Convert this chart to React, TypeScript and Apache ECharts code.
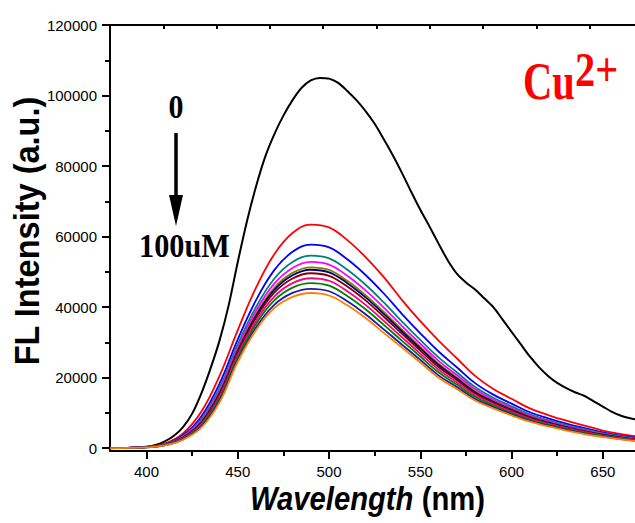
import React, { useEffect, useRef } from "react";
import * as echarts from "echarts";

// Wavelength grids (nm)
const WL5 = [380, 385, 390, 395, 400, 405, 410, 415, 420, 425, 430, 435, 440, 445, 450, 455, 460, 465, 470, 475, 480, 485, 490, 495, 500, 505, 510, 515, 520, 525, 530, 535, 540, 545, 550, 555, 560, 565, 570, 575, 580, 585, 590, 595, 600, 605, 610, 615, 620, 625, 630, 635, 640, 645, 650, 655, 660, 665, 670];
const WL10 = [380, 390, 400, 410, 420, 430, 440, 450, 460, 470, 480, 490, 500, 510, 520, 530, 540, 550, 560, 570, 580, 590, 600, 610, 620, 630, 640, 650, 660, 670];

// 0 uM (black), sampled on WL5
const C_0 = [0, 50, 100, 200, 400, 900, 1900, 3500, 6000, 9800, 15500, 22500, 30500, 40500, 52800, 64300, 74200, 82600, 89000, 94300, 98700, 102200, 104300, 105000, 104800, 103600, 101300, 98700, 95600, 92000, 87600, 83000, 78000, 72700, 67600, 62900, 58000, 53300, 49500, 47000, 45000, 42500, 40000, 36500, 33000, 29500, 26000, 23000, 20500, 18500, 17000, 15800, 14800, 13300, 11800, 10300, 9200, 8500, 8000];

// Curves after Cu2+ additions, sampled on WL10
const C_RED = [0, 100, 350, 1300, 4200, 10300, 20500, 33500, 45500, 55000, 61000, 63400, 62600, 59000, 54200, 48500, 42000, 36000, 30500, 25500, 20500, 16800, 14000, 11300, 9400, 7800, 6400, 5000, 4000, 3200];
const C_BLUE = [0, 95, 320, 1150, 3670, 8980, 18300, 30850, 41970, 50500, 55680, 57700, 56930, 53560, 49110, 43860, 38030, 32560, 27410, 22940, 18440, 15180, 12620, 10180, 8460, 6980, 5690, 4470, 3560, 2820];
const C_TEAL = [0, 90, 300, 1070, 3380, 8260, 17100, 29410, 40050, 48050, 52780, 54590, 53840, 50600, 46350, 41330, 35870, 30690, 25730, 21550, 17320, 14300, 11870, 9580, 7950, 6530, 5310, 4180, 3320, 2610];
const C_MAGENTA = [0, 90, 300, 1030, 3220, 7840, 16410, 28590, 38950, 46650, 51120, 52810, 52060, 48900, 44750, 39870, 34630, 29610, 24770, 20750, 16680, 13800, 11430, 9230, 7650, 6270, 5090, 4020, 3180, 2490];
const C_OLIVE = [0, 90, 290, 990, 3080, 7490, 15820, 27880, 38010, 45450, 49710, 51290, 50560, 47460, 43410, 38640, 33580, 28700, 23950, 20070, 16130, 13370, 11070, 8930, 7400, 6050, 4900, 3880, 3060, 2390];
const C_NAVY = [0, 90, 280, 970, 3010, 7330, 15550, 27560, 37580, 44900, 49050, 50600, 49860, 46790, 42780, 38070, 33090, 28280, 23570, 19760, 15880, 13170, 10900, 8790, 7290, 5950, 4820, 3810, 3010, 2340];
const C_WINE = [0, 85, 280, 950, 2920, 7100, 15170, 27100, 36970, 44120, 48130, 49610, 48880, 45850, 41900, 37270, 32400, 27680, 23030, 19310, 15520, 12890, 10660, 8600, 7120, 5810, 4690, 3720, 2930, 2280];
const C_PINK = [0, 85, 270, 910, 2790, 6770, 14620, 26440, 36090, 43010, 46810, 48190, 47470, 44500, 40640, 36110, 31420, 26830, 22270, 18680, 15010, 12490, 10320, 8320, 6890, 5600, 4520, 3590, 2820, 2180];
const C_GREEN = [0, 80, 260, 870, 2660, 6450, 14080, 25800, 35230, 41900, 45510, 46790, 46080, 43160, 39390, 34980, 30440, 25990, 21510, 18050, 14510, 12090, 9980, 8050, 6660, 5400, 4350, 3460, 2720, 2090];
const C_ROYAL = [0, 80, 260, 830, 2510, 6080, 13470, 25060, 34240, 40650, 44020, 45200, 44500, 41650, 37970, 33680, 29340, 25030, 20650, 17340, 13930, 11640, 9590, 7740, 6400, 5170, 4150, 3310, 2590, 1980];
const C_ORANGE = [0, 80, 250, 800, 2400, 5800, 13000, 24500, 33500, 39700, 42900, 44000, 43300, 40500, 36900, 32700, 28500, 24300, 20000, 16800, 13500, 11300, 9300, 7500, 6200, 5000, 4000, 3200, 2500, 1900];

const CURVES10 = [C_RED, C_BLUE, C_TEAL, C_MAGENTA, C_OLIVE, C_NAVY, C_WINE, C_PINK, C_GREEN, C_ROYAL, C_ORANGE];
const CURVE_NAMES = ["red", "blue", "teal", "magenta", "olive", "navy", "wine", "pink", "green", "royal", "orange"];
const CURVE_COLORS = ["#ff0000", "#0000ff", "#008080", "#ff00ff", "#808000", "#000080", "#800000", "#ff0080", "#008000", "#1a1aa6", "#ff8000"];

// Axis ticks
const X_TICKS = [400, 450, 500, 550, 600, 650];
const X_MINOR = [425, 475, 525, 575, 625];
const Y_TICKS = [0, 20000, 40000, 60000, 80000, 100000, 120000];
const Y_MINOR = [10000, 30000, 50000, 70000, 90000, 110000];

const SANS = "'Liberation Sans', Arial, sans-serif";
const SERIF = "'Liberation Serif', 'Times New Roman', serif";

export default function App() {
  const ref = useRef<HTMLDivElement>(null);

  useEffect(() => {
    if (!ref.current) return;
    const chart = echarts.init(ref.current, null, { renderer: "svg" });

    const axisLineStyle = { color: "#000", width: 2 };
    const tickStyle = { color: "#000", width: 2 };

    const series: any[] = [
      {
        name: "0",
        type: "line",
        data: WL5.map((w, i) => [w, C_0[i]]),
        showSymbol: false,
        symbol: "none",
        smooth: 0.3,
        lineStyle: { color: "#000", width: 2 },
        itemStyle: { color: "#000" },
        xAxisIndex: 0,
        yAxisIndex: 0,
      },
    ];
    CURVES10.forEach((vals, k) => {
      series.push({
        name: CURVE_NAMES[k],
        type: "line",
        data: WL10.map((w, i) => [w, vals[i]]),
        showSymbol: false,
        symbol: "none",
        smooth: 0.4,
        lineStyle: { color: CURVE_COLORS[k], width: 1.8 },
        itemStyle: { color: CURVE_COLORS[k] },
        xAxisIndex: 0,
        yAxisIndex: 0,
      });
    });

    chart.setOption({
      animation: false,
      backgroundColor: "#fff",
      grid: { left: 110, top: 25, width: 533, height: 426, containLabel: false },
      xAxis: [
        {
          type: "value",
          position: "bottom",
          min: 380,
          max: 672,
          axisLine: { show: true, onZero: false, lineStyle: axisLineStyle },
          axisTick: { show: true, customValues: X_TICKS, length: 8, lineStyle: tickStyle },
          axisLabel: {
            customValues: X_TICKS,
            margin: 13,
            fontSize: 15,
            color: "#000",
            fontFamily: SANS,
            formatter: (v: number) => String(v),
          },
          splitLine: { show: false },
        },
        {
          type: "value",
          position: "bottom",
          min: 380,
          max: 672,
          axisLine: { show: false, onZero: false },
          axisTick: { show: true, customValues: X_MINOR, length: 5, lineStyle: tickStyle },
          axisLabel: { show: false },
          splitLine: { show: false },
        },
        {
          type: "value",
          position: "top",
          min: 0,
          max: 10,
          interval: 1,
          axisLine: { show: true, onZero: false, lineStyle: axisLineStyle },
          axisTick: { show: true, inside: true, length: 4, lineStyle: tickStyle },
          axisLabel: { show: false },
          splitLine: { show: false },
        },
      ],
      yAxis: [
        {
          type: "value",
          position: "left",
          min: -800,
          max: 120000,
          axisLine: { show: true, onZero: false, lineStyle: axisLineStyle },
          axisTick: { show: true, customValues: Y_TICKS, length: 8, lineStyle: tickStyle },
          axisLabel: {
            customValues: Y_TICKS,
            margin: 13,
            fontSize: 15,
            color: "#000",
            fontFamily: SANS,
            formatter: (v: number) => String(v),
          },
          splitLine: { show: false },
        },
        {
          type: "value",
          position: "left",
          min: -800,
          max: 120000,
          axisLine: { show: false, onZero: false },
          axisTick: { show: true, customValues: Y_MINOR, length: 5, lineStyle: tickStyle },
          axisLabel: { show: false },
          splitLine: { show: false },
        },
      ],
      series,
      graphic: [
        {
          type: "text",
          x: 26.5,
          y: 231,
          rotation: Math.PI / 2,
          scaleX: 0.93,
          style: {
            text: "FL Intensity (a.u.)",
            x: 0,
            y: 0,
            align: "center",
            verticalAlign: "middle",
            fontFamily: SANS,
            fontWeight: "bold",
            fontSize: 35,
            fill: "#000",
          },
        },
        {
          type: "text",
          x: 250,
          y: 498,
          scaleX: 0.86,
          style: {
            text: "{i|Wavelength} {n|(nm)}",
            x: 0,
            y: 0,
            align: "left",
            verticalAlign: "middle",
            fontFamily: SANS,
            fontWeight: "bold",
            fontSize: 34,
            fill: "#000",
            rich: {
              i: { fontFamily: SANS, fontWeight: "bold", fontStyle: "italic", fontSize: 34, fill: "#000" },
              n: { fontFamily: SANS, fontWeight: "bold", fontSize: 34, fill: "#000" },
            },
          },
        },
        {
          type: "text",
          x: 176,
          y: 106,
          scaleX: 0.88,
          style: {
            text: "0",
            x: 0,
            y: 0,
            align: "center",
            verticalAlign: "middle",
            fontFamily: SERIF,
            fontWeight: "bold",
            fontSize: 34,
            fill: "#000",
          },
        },
        {
          type: "line",
          shape: { x1: 176, y1: 133, x2: 176, y2: 200 },
          style: { stroke: "#000", lineWidth: 3.5 },
        },
        {
          type: "polygon",
          shape: { points: [[169, 195], [183, 195], [176, 226]] },
          style: { fill: "#000" },
        },
        {
          type: "text",
          x: 184.5,
          y: 245,
          scaleX: 0.89,
          style: {
            text: "100uM",
            x: 0,
            y: 0,
            align: "center",
            verticalAlign: "middle",
            fontFamily: SERIF,
            fontWeight: "bold",
            fontSize: 34,
            fill: "#000",
          },
        },
        {
          type: "text",
          x: 523,
          y: 81,
          scaleX: 0.78,
          style: {
            text: "Cu",
            x: 0,
            y: 0,
            align: "left",
            verticalAlign: "middle",
            fontFamily: SERIF,
            fontWeight: "bold",
            fontSize: 52,
            fill: "#ff0000",
          },
        },
        {
          type: "text",
          x: 575,
          y: 70,
          scaleX: 0.84,
          style: {
            text: "2+",
            x: 0,
            y: 0,
            align: "left",
            verticalAlign: "middle",
            fontFamily: SERIF,
            fontWeight: "bold",
            fontSize: 48,
            fill: "#ff0000",
          },
        },
      ],
    });

    return () => {
      chart.dispose();
    };
  }, []);

  return (
    <div
      style={{
        position: "fixed",
        left: 0,
        top: 0,
        width: 635,
        height: 523,
        overflow: "hidden",
        background: "#fff",
      }}
    >
      <div ref={ref} style={{ width: 660, height: 523 }} />
    </div>
  );
}
